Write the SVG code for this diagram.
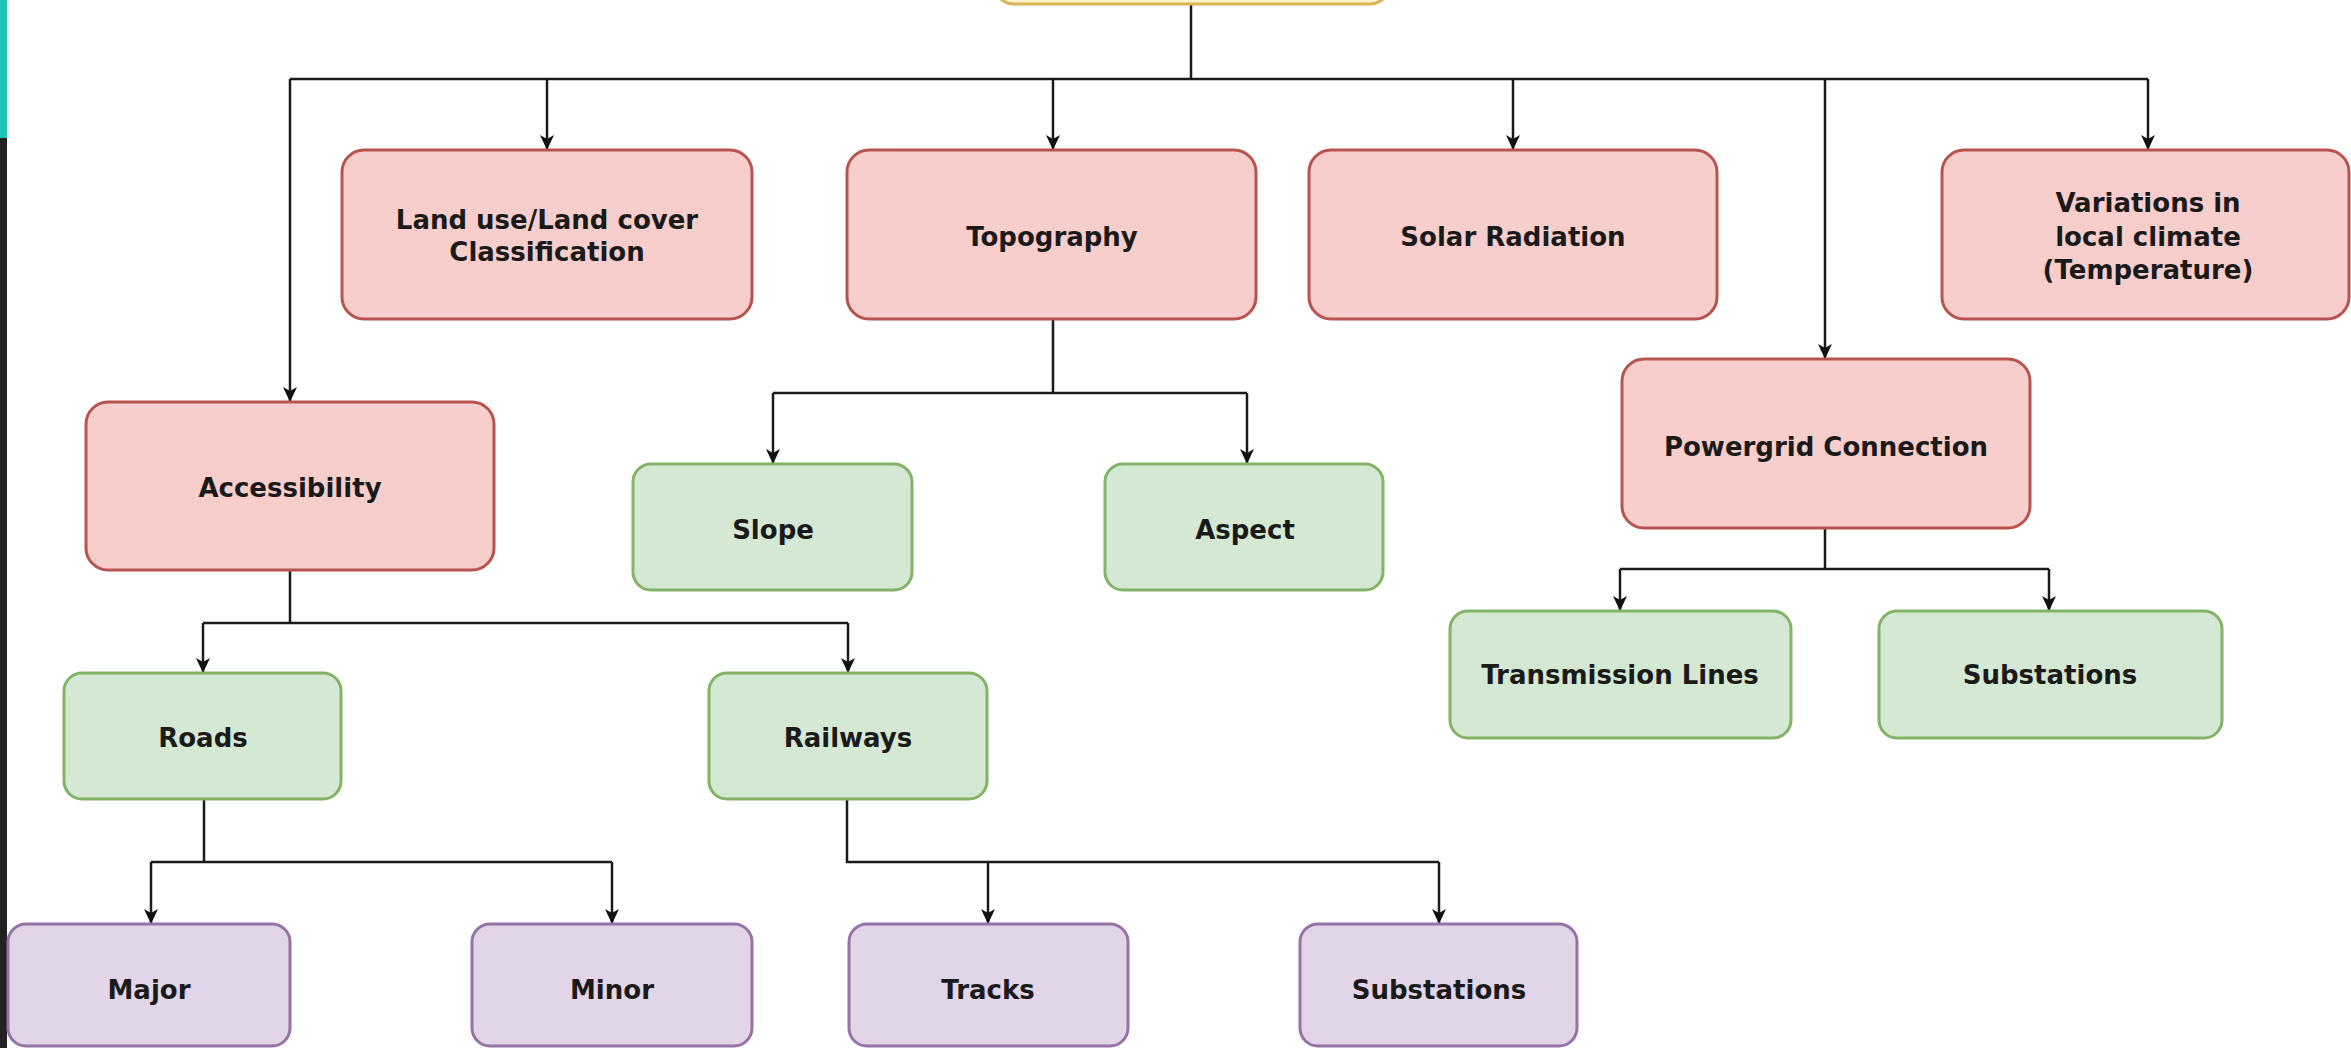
<svg xmlns="http://www.w3.org/2000/svg" width="2351" height="1048" viewBox="0 0 2351 1048">
<defs>
<marker id="arr" markerUnits="userSpaceOnUse" markerWidth="16" markerHeight="14" refX="15" refY="7" orient="auto">
<path d="M0,0 L15,7 L0,14 L4,7 z" fill="#111"/>
</marker>
<style>
.pink{fill:#f8cecc;stroke:#b85450;stroke-width:3}
.green{fill:#d5e8d4;stroke:#82b366;stroke-width:3}
.purple{fill:#e1d5e7;stroke:#9673a6;stroke-width:3}
.yellow{fill:#fff2cc;stroke:#d6b656;stroke-width:3}
.t{font-family:"DejaVu Sans","Verdana",sans-serif;font-weight:bold;font-size:26px;fill:#1a1a1a;text-anchor:middle}
.c{fill:none;stroke:#1a1a1a;stroke-width:2.5}
.a{marker-end:url(#arr)}
</style>
</defs>
<rect x="0" y="0" width="2351" height="1048" fill="#ffffff"/>
<rect x="0" y="0" width="7" height="138" fill="#1fc4b4"/>
<rect x="0" y="138" width="7" height="910" fill="#222222"/>

<g id="connectors">
<path class="c" d="M1191,4 V79"/>
<path class="c" d="M290,79 H2148"/>
<path class="c a" d="M290,79 V402"/>
<path class="c a" d="M547,79 V150"/>
<path class="c a" d="M1053,79 V150"/>
<path class="c a" d="M1513,79 V150"/>
<path class="c a" d="M1825,79 V359"/>
<path class="c a" d="M2148,79 V150"/>
<path class="c" d="M1053,319 V393 M773,393 H1247"/>
<path class="c a" d="M773,393 V464"/>
<path class="c a" d="M1247,393 V464"/>
<path class="c" d="M290,570 V623 M203,623 H848"/>
<path class="c a" d="M203,623 V673"/>
<path class="c a" d="M848,623 V673"/>
<path class="c" d="M1825,528 V569 M1620,569 H2049"/>
<path class="c a" d="M1620,569 V611"/>
<path class="c a" d="M2049,569 V611"/>
<path class="c" d="M204,799 V862 M151,862 H612"/>
<path class="c a" d="M151,862 V924"/>
<path class="c a" d="M612,862 V924"/>
<path class="c" d="M847,799 V862 H1439"/>
<path class="c a" d="M988,862 V924"/>
<path class="c a" d="M1439,862 V924"/>
</g>

<g id="root"><rect class="yellow" x="994" y="-70" width="396" height="74" rx="20"/></g>
<g id="landuse"><rect class="pink" x="342" y="150" width="410" height="169" rx="22"/>
<text class="t" x="547" y="229">Land use/Land cover</text><text class="t" x="547" y="261">Classification</text></g>
<g id="topography"><rect class="pink" x="847" y="150" width="409" height="169" rx="22"/>
<text class="t" x="1052" y="246">Topography</text></g>
<g id="solar"><rect class="pink" x="1309" y="150" width="408" height="169" rx="22"/>
<text class="t" x="1513" y="246">Solar Radiation</text></g>
<g id="variations"><rect class="pink" x="1942" y="150" width="407" height="169" rx="22"/>
<text class="t" x="2148" y="212">Variations in</text><text class="t" x="2148" y="246">local climate</text><text class="t" x="2148" y="279">(Temperature)</text></g>
<g id="accessibility"><rect class="pink" x="86" y="402" width="408" height="168" rx="22"/>
<text class="t" x="290" y="497">Accessibility</text></g>
<g id="powergrid"><rect class="pink" x="1622" y="359" width="408" height="169" rx="22"/>
<text class="t" x="1826" y="456">Powergrid Connection</text></g>
<g id="slope"><rect class="green" x="633" y="464" width="279" height="126" rx="18"/>
<text class="t" x="773" y="539">Slope</text></g>
<g id="aspect"><rect class="green" x="1105" y="464" width="278" height="126" rx="18"/>
<text class="t" x="1245" y="539">Aspect</text></g>
<g id="transmission"><rect class="green" x="1450" y="611" width="341" height="127" rx="18"/>
<text class="t" x="1620" y="684">Transmission Lines</text></g>
<g id="substations-grid"><rect class="green" x="1879" y="611" width="343" height="127" rx="18"/>
<text class="t" x="2050" y="684">Substations</text></g>
<g id="roads"><rect class="green" x="64" y="673" width="277" height="126" rx="18"/>
<text class="t" x="203" y="747">Roads</text></g>
<g id="railways"><rect class="green" x="709" y="673" width="278" height="126" rx="18"/>
<text class="t" x="848" y="747">Railways</text></g>
<g id="major"><rect class="purple" x="8" y="924" width="282" height="122" rx="18"/>
<text class="t" x="149" y="999">Major</text></g>
<g id="minor"><rect class="purple" x="472" y="924" width="280" height="122" rx="18"/>
<text class="t" x="612" y="999">Minor</text></g>
<g id="tracks"><rect class="purple" x="849" y="924" width="279" height="122" rx="18"/>
<text class="t" x="988" y="999">Tracks</text></g>
<g id="substations-rail"><rect class="purple" x="1300" y="924" width="277" height="122" rx="18"/>
<text class="t" x="1439" y="999">Substations</text></g>
</svg>
